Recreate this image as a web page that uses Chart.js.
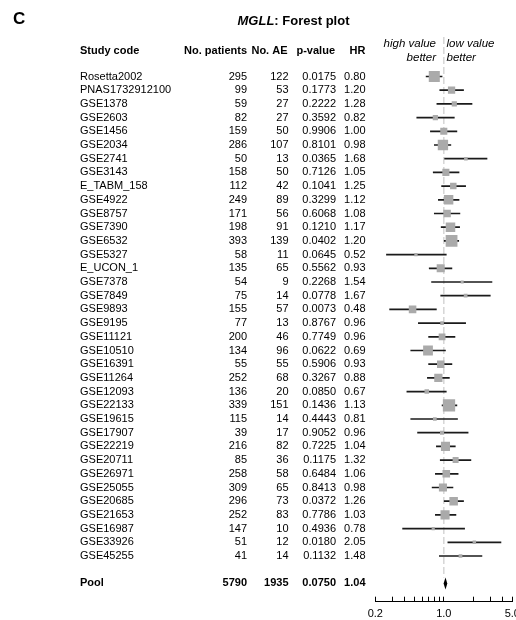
<!DOCTYPE html>
<html>
<head>
<meta charset="utf-8">
<script src="https://cdn.jsdelivr.net/npm/chart.js@4.4.1/dist/chart.umd.min.js"></script>
<style>
html,body{margin:0;padding:0;background:#fff;overflow:hidden;width:516px;height:620px;}
canvas{display:block;}
</style>
</head>
<body>
<canvas id="c" width="540" height="620"></canvas>
<script>
// ---------- data ----------
const studies = ["Rosetta2002","PNAS1732912100","GSE1378","GSE2603","GSE1456","GSE2034","GSE2741","GSE3143","E_TABM_158","GSE4922","GSE8757","GSE7390","GSE6532","GSE5327","E_UCON_1","GSE7378","GSE7849","GSE9893","GSE9195","GSE11121","GSE10510","GSE16391","GSE11264","GSE12093","GSE22133","GSE19615","GSE17907","GSE22219","GSE20711","GSE26971","GSE25055","GSE20685","GSE21653","GSE16987","GSE33926","GSE45255"];
const patients = [295,99,59,82,159,286,50,158,112,249,171,198,393,58,135,54,75,155,77,200,134,55,252,136,339,115,39,216,85,258,309,296,252,147,51,41];
const events = [122,53,27,27,50,107,13,50,42,89,56,91,139,11,65,9,14,57,13,46,96,55,68,20,151,14,17,82,36,58,65,73,83,10,12,14];
const pValues = [0.0175,0.1773,0.2222,0.3592,0.9906,0.8101,0.0365,0.7126,0.1041,0.3299,0.6068,0.1210,0.0402,0.0645,0.5562,0.2268,0.0778,0.0073,0.8767,0.7749,0.0622,0.5906,0.3267,0.0850,0.1436,0.4443,0.9052,0.7225,0.1175,0.6484,0.8413,0.0372,0.7786,0.4936,0.0180,0.1132];
const hazardRatios = [0.80,1.20,1.28,0.82,1.00,0.98,1.68,1.05,1.25,1.12,1.08,1.17,1.20,0.52,0.93,1.54,1.67,0.48,0.96,0.96,0.69,0.93,0.88,0.67,1.13,0.81,0.96,1.04,1.32,1.06,0.98,1.26,1.03,0.78,2.05,1.48];
const ciLower = [0.66,0.91,0.85,0.53,0.73,0.80,1.02,0.78,0.95,0.88,0.80,0.94,1.01,0.26,0.71,0.75,0.93,0.28,0.55,0.70,0.46,0.70,0.68,0.42,0.96,0.46,0.54,0.84,0.92,0.82,0.76,1.01,0.82,0.38,1.10,0.90];
const ciUpper = [0.96,1.59,1.94,1.28,1.36,1.18,2.76,1.43,1.67,1.43,1.46,1.45,1.42,1.06,1.21,3.10,2.98,0.84,1.67,1.30,1.04,1.21,1.14,1.06,1.36,1.38,1.77,1.31,1.89,1.40,1.24,1.59,1.33,1.63,3.83,2.45];
const poolLabel = "Pool";
const poolPatients = 5790;
const poolEvents = 1935;
const poolP = 0.0750;
const poolHR = 1.04;
const poolLower = 0.996;
const poolUpper = 1.086;
const referenceHR = 1.0;
const xTickValues = [0.2,0.3,0.4,0.5,0.6,0.7,0.8,0.9,1,2,3,4,5];
const xTickLabels = ["0.2","1.0","5.0"];

// ---------- layout / style ----------
const FONT = '"Liberation Sans", Arial, sans-serif';
const POOL_ROW = studies.length + 1;
const COL = {study: 80, patients: 247, ae: 288.5, p: 336, hr: 365.5};

Chart.defaults.font.family = FONT;
Chart.defaults.color = '#000';

const forestPlugin = {
  id: 'forest',
  beforeDatasetsDraw(chart) {
    const {ctx, chartArea, scales: {x, y}} = chart;
    const px = x.getPixelForValue(referenceHR);
    ctx.save();
    ctx.strokeStyle = '#d6d6d6';
    ctx.lineWidth = 1.5;
    ctx.setLineDash([7, 3]);
    ctx.beginPath();
    ctx.moveTo(px, chartArea.top);
    ctx.lineTo(px, y.getPixelForValue(POOL_ROW) - 6);
    ctx.stroke();
    ctx.restore();
  },
  afterDatasetsDraw(chart) {
    const {ctx, scales: {x, y}} = chart;
    const yc = y.getPixelForValue(POOL_ROW);
    const xl = x.getPixelForValue(poolLower), xc = x.getPixelForValue(poolHR), xu = x.getPixelForValue(poolUpper);
    ctx.save();
    ctx.fillStyle = '#000';
    ctx.beginPath();
    ctx.moveTo(xl, yc);
    ctx.lineTo(xc, yc - 6);
    ctx.lineTo(xu, yc);
    ctx.lineTo(xc, yc + 6);
    ctx.closePath();
    ctx.fill();
    ctx.restore();
  },
  afterDraw(chart) {
    const {ctx, scales: {y}} = chart;
    ctx.save();
    ctx.fillStyle = '#000';
    ctx.textBaseline = 'middle';

    // panel letter
    ctx.font = 'bold 17px ' + FONT;
    ctx.textAlign = 'left';
    ctx.fillText('C', 13, 19);

    // title
    const t1 = 'MGLL', t2 = ': Forest plot';
    ctx.font = 'italic bold 13px ' + FONT;
    const w1 = ctx.measureText(t1).width;
    ctx.font = 'bold 13px ' + FONT;
    const w2 = ctx.measureText(t2).width;
    const tx = 293.5 - (w1 + w2) / 2;
    ctx.font = 'italic bold 13px ' + FONT;
    ctx.fillText(t1, tx, 21.5);
    ctx.font = 'bold 13px ' + FONT;
    ctx.fillText(t2, tx + w1, 21.5);

    // header
    ctx.font = 'bold 11px ' + FONT;
    const hy = 50.5;
    ctx.textAlign = 'left';
    ctx.fillText('Study code', COL.study, hy);
    ctx.textAlign = 'right';
    ctx.fillText('No. patients', COL.patients, hy);
    ctx.fillText('No. AE', COL.ae - 1, hy);
    ctx.fillText('p-value', COL.p - 1, hy);
    ctx.fillText('HR', COL.hr, hy);

    ctx.font = 'italic 11.5px ' + FONT;
    ctx.textAlign = 'right';
    ctx.fillText('high value', 436, 43.5);
    ctx.fillText('better', 436, 57.5);
    ctx.textAlign = 'left';
    ctx.fillText('low value', 446.5, 43.5);
    ctx.fillText('better', 446.5, 57.5);

    // rows
    ctx.font = '11px ' + FONT;
    studies.forEach((s, i) => {
      const yy = y.getPixelForValue(i);
      ctx.textAlign = 'left';
      ctx.fillText(s, COL.study, yy);
      ctx.textAlign = 'right';
      ctx.fillText(String(patients[i]), COL.patients, yy);
      ctx.fillText(String(events[i]), COL.ae, yy);
      ctx.fillText(pValues[i].toFixed(4), COL.p, yy);
      ctx.fillText(hazardRatios[i].toFixed(2), COL.hr, yy);
    });

    // pool row
    ctx.font = 'bold 11px ' + FONT;
    const py = y.getPixelForValue(POOL_ROW);
    ctx.textAlign = 'left';
    ctx.fillText(poolLabel, COL.study, py);
    ctx.textAlign = 'right';
    ctx.fillText(String(poolPatients), COL.patients, py);
    ctx.fillText(String(poolEvents), COL.ae, py);
    ctx.fillText(poolP.toFixed(4), COL.p, py);
    ctx.fillText(poolHR.toFixed(2), COL.hr, py);
    ctx.restore();
  }
};

new Chart(document.getElementById('c'), {
  type: 'scatter',
  data: {
    datasets: [
      {
        type: 'bar',
        indexAxis: 'y',
        data: studies.map((s, i) => ({x: [ciLower[i], ciUpper[i]], y: i})),
        backgroundColor: '#1a1a1a',
        borderWidth: 0,
        barThickness: 1,
        xAxisID: 'x',
        yAxisID: 'y',
        order: 2
      },
      {
        type: 'scatter',
        data: studies.map((s, i) => ({x: hazardRatios[i], y: i})),
        pointStyle: 'rect',
        pointRadius: ctx => Math.sqrt(events[ctx.dataIndex] / 2),
        backgroundColor: '#aaaaaa',
        borderWidth: 0,
        xAxisID: 'x',
        yAxisID: 'y',
        order: 1
      }
    ]
  },
  options: {
    responsive: false,
    animation: false,
    devicePixelRatio: 1,
    events: [],
    layout: {padding: {left: 375.3, right: 27.7, top: 37, bottom: 0}},
    plugins: {legend: {display: false}, tooltip: {enabled: false}},
    scales: {
      x: {
        type: 'logarithmic',
        position: 'bottom',
        offset: false,
        min: 0.2,
        max: 5,
        afterBuildTicks: s => { s.ticks = xTickValues.map(v => ({value: v})); },
        afterFit: s => { s.height = 18.3; },
        ticks: {
          autoSkip: false,
          maxRotation: 0,
          minRotation: 0,
          padding: 11,
          font: {size: 11},
          color: '#000',
          callback: v => { const lbl = Number(v).toFixed(1); return xTickLabels.includes(lbl) ? lbl : ''; }
        },
        grid: {display: true, offset: false, drawOnChartArea: false, drawTicks: true, tickLength: -5, color: '#000', lineWidth: 1},
        border: {display: true, color: '#000', width: 1}
      },
      y: {
        type: 'linear',
        display: false,
        offset: false,
        grace: 0,
        reverse: true,
        min: -2.883,
        max: 38.336,
        grid: {offset: false}
      }
    }
  },
  plugins: [forestPlugin]
});
</script>
</body>
</html>
